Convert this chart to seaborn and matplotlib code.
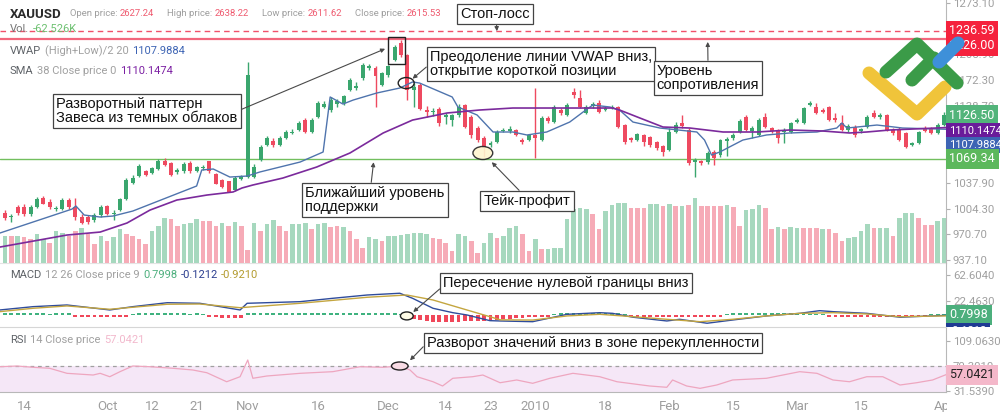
import numpy as np
import pandas as pd
import matplotlib.pyplot as plt
import seaborn as sns
from matplotlib.patches import Ellipse, Rectangle
from matplotlib.lines import Line2D
from matplotlib.transforms import Bbox, TransformedBbox

sns.set_style('white')
plt.rcParams['font.family'] = ['Roboto', 'DejaVu Sans']

# --- daily XAUUSD candles ---
opens = [999, 994, 1006, 1007, 997, 1007, 1018, 1013, 1004, 1004,
         1016, 1006, 994, 993, 989, 996, 1008, 997, 1003, 1017,
         1038, 1047, 1053, 1051, 1056, 1067, 1064, 1052, 1053, 1064,
         1053, 1057, 1066, 1050, 1042, 1040, 1029, 1043, 1046, 1046,
         1068, 1087, 1092, 1087, 1096, 1103, 1107, 1120, 1105, 1124,
         1137, 1133, 1141, 1142, 1159, 1162, 1175, 1188, 1188, 1166,
         1179, 1198, 1220, 1205, 1159, 1166, 1133, 1131, 1135, 1124,
         1120, 1127, 1140, 1124, 1110, 1097, 1087, 1091, 1106, 1106,
         1107, 1094, 1094, 1101, 1094, 1123, 1117, 1133, 1127, 1157,
         1149, 1129, 1138, 1142, 1133, 1136, 1137, 1114, 1097, 1094,
         1101, 1098, 1091, 1086, 1081, 1104, 1116, 1107, 1065, 1067,
         1065, 1078, 1074, 1093, 1097, 1104, 1124, 1106, 1101, 1124,
         1110, 1107, 1104, 1104, 1117, 1116, 1140, 1137, 1133, 1137,
         1123, 1116, 1107, 1111, 1106, 1111, 1129, 1124, 1127, 1107,
         1107, 1103, 1087, 1090, 1110, 1110, 1103, 1114]
highs = [1003, 997, 1009, 1010, 1009, 1020, 1021, 1017, 1008, 1018,
         1018, 1018, 997, 996, 999, 1009, 1009, 1003, 1018, 1044,
         1048, 1063, 1055, 1059, 1069, 1070, 1065, 1057, 1065, 1067,
         1060, 1061, 1067, 1051, 1043, 1040, 1047, 1048, 1196, 1063,
         1087, 1099, 1097, 1099, 1107, 1108, 1119, 1123, 1123, 1145,
         1145, 1150, 1148, 1153, 1175, 1170, 1195, 1193, 1191, 1183,
         1192, 1218, 1225, 1206, 1168, 1168, 1138, 1136, 1137, 1129,
         1128, 1141, 1141, 1127, 1112, 1099, 1093, 1107, 1110, 1112,
         1108, 1097, 1102, 1162, 1125, 1125, 1140, 1136, 1142, 1162,
         1159, 1140, 1144, 1146, 1138, 1140, 1138, 1115, 1098, 1103,
         1102, 1099, 1093, 1087, 1110, 1117, 1127, 1110, 1070, 1068,
         1080, 1081, 1095, 1098, 1103, 1121, 1127, 1112, 1123, 1129,
         1111, 1108, 1110, 1117, 1123, 1137, 1145, 1142, 1136, 1138,
         1129, 1127, 1115, 1114, 1110, 1127, 1133, 1129, 1128, 1110,
         1111, 1104, 1091, 1106, 1112, 1111, 1116, 1131]
lows = [989, 987, 996, 995, 995, 1005, 1010, 1004, 1001, 1003,
        1004, 989, 984, 984, 987, 993, 996, 990, 1001, 1016,
        1037, 1046, 1047, 1050, 1055, 1060, 1047, 1050, 1051, 1051,
        1052, 1055, 1051, 1037, 1031, 1026, 1027, 1042, 1044, 1044,
        1067, 1086, 1085, 1086, 1095, 1102, 1106, 1103, 1103, 1123,
        1136, 1131, 1137, 1140, 1158, 1159, 1172, 1185, 1137, 1164,
        1176, 1197, 1202, 1146, 1137, 1133, 1124, 1125, 1112, 1115,
        1112, 1124, 1110, 1097, 1091, 1072, 1085, 1090, 1104, 1103,
        1099, 1089, 1093, 1070, 1093, 1116, 1116, 1127, 1125, 1149,
        1136, 1128, 1136, 1129, 1132, 1134, 1110, 1089, 1091, 1093,
        1086, 1085, 1081, 1073, 1080, 1103, 1110, 1061, 1046, 1061,
        1063, 1061, 1072, 1073, 1094, 1103, 1106, 1097, 1099, 1110,
        1103, 1090, 1090, 1103, 1116, 1115, 1138, 1128, 1129, 1119,
        1117, 1106, 1104, 1098, 1103, 1110, 1123, 1121, 1106, 1101,
        1093, 1084, 1086, 1089, 1104, 1102, 1102, 1112]
closes = [992, 995, 999, 997, 1006, 1017, 1011, 1006, 1005, 1016,
          1006, 994, 986, 987, 996, 1007, 998, 999, 1017, 1042,
          1045, 1060, 1048, 1057, 1067, 1061, 1048, 1055, 1063, 1053,
          1059, 1059, 1053, 1037, 1032, 1026, 1045, 1046, 1179, 1059,
          1085, 1096, 1087, 1096, 1105, 1104, 1116, 1105, 1120, 1142,
          1141, 1146, 1145, 1151, 1172, 1164, 1192, 1190, 1177, 1181,
          1190, 1216, 1205, 1159, 1163, 1135, 1131, 1132, 1116, 1127,
          1127, 1137, 1111, 1101, 1094, 1084, 1090, 1104, 1107, 1108,
          1101, 1091, 1101, 1097, 1123, 1119, 1137, 1129, 1140, 1153,
          1137, 1137, 1141, 1131, 1136, 1137, 1111, 1091, 1094, 1102,
          1091, 1087, 1084, 1078, 1104, 1114, 1112, 1064, 1068, 1064,
          1077, 1070, 1094, 1095, 1101, 1119, 1107, 1110, 1120, 1111,
          1106, 1097, 1107, 1116, 1120, 1136, 1142, 1129, 1131, 1120,
          1120, 1107, 1112, 1101, 1108, 1124, 1124, 1127, 1107, 1103,
          1094, 1085, 1090, 1104, 1106, 1103, 1114, 1126.5]

volumes = [27, 27, 27, 26, 24, 29, 24, 20, 32, 30, 27, 32, 35, 29, 19, 27, 22, 26, 34, 29,
           27, 24, 19, 32, 37, 45, 44, 37, 39, 40, 44, 42, 42, 37, 40, 37, 41, 37, 13,
           40, 32, 39, 43, 37, 32, 39, 39, 40, 34, 39, 40, 36, 37, 36, 32, 24, 15, 26, 24,
           22, 27, 27, 28, 29, 30, 30, 29, 25, 24, 20, 12,
           29, 27, 22, 10, 20, 30, 25, 27, 35, 37, 29, 12, 24, 14, 14, 15, 15, 44, 54, 55,
           54, 49, 34, 52, 58, 60, 60, 55, 55, 55, 59, 59, 57, 59, 57, 57, 58, 65, 57,
           57, 57, 57, 58, 56, 37, 53, 54, 58, 55, 34, 36, 34, 36, 35, 35, 35, 35, 34, 34,
           30, 22, 25, 26, 32, 39, 35, 35, 35, 27, 45, 50, 50, 45, 38, 38, 42, 45]
vol_side = list("GRGRRGGRGGRRGRRGRGGRRRRGGGRRGGGRRRGRGR" + "R"
                + "GRGGRRGGGRGGRRGRRRGGRGGGGGGGRRRR"
                + "GGRRGGRGGGRRGRGGGGGGGRRGGGGRRRGGRGRGRGR"
                + "RRRGRRGGGRRGRGGRRRGRRRGGGGRGGRGGGRRRGG")

# indicator lines (candle index, value)
vwap_i = [-0.8, 10.5, 11.1, 12.4, 14.9, 16.9, 20.0, 30.0, 30.8, 32.6, 35.2, 37.9, 39.9,
          46.2, 49.8, 50.9, 52.9, 54.5, 58.2, 61.8, 63.8, 64.9, 70.0, 70.9, 73.9, 76.4,
          79.5, 81.7, 84.8, 88.4, 90.5, 92.0, 94.7, 96.2, 98.3, 102.5, 108.3, 109.5,
          110.6, 111.9, 115.5, 119.2, 122.8, 127.1, 130.2, 131.0, 131.8, 136.5, 140.5, 147.3]
vwap_v = [972.5, 1003.8, 1007.8, 996.0, 993.4, 994.7, 1001.2, 1033.9, 1054.8, 1056.1,
          1045.6, 1046.9, 1052.2, 1065.2, 1078.3, 1150.1, 1140.9, 1146.1, 1155.3, 1161.8,
          1169.7, 1168.3, 1150.1, 1137.0, 1126.6, 1104.4, 1104.4, 1100.5, 1104.4, 1117.4,
          1130.5, 1139.6, 1137.0, 1133.1, 1117.4, 1109.6, 1104.4, 1093.9, 1074.3, 1078.3,
          1093.9, 1100.5, 1103.1, 1104.4, 1109.6, 1116.1, 1109.6, 1113.5, 1109.6, 1107.99]
sma_i = [-0.8, 9.7, 14.9, 19.1, 22.7, 26.9, 31.6, 35.7, 37.1, 38.8, 43.5, 48.8, 54.0,
         59.2, 63.8, 69.2, 74.3, 79.5, 95.1, 96.2, 99.4, 103.0, 107.2, 112.4, 117.7,
         122.8, 128.0, 132.2, 134.9, 138.5, 147.3]
sma_v = [954.2, 969.9, 973.8, 985.6, 1002.5, 1015.6, 1022.1, 1026.1, 1031.3, 1035.2,
         1044.3, 1058.7, 1077.0, 1103.1, 1120.0, 1129.2, 1133.1, 1135.7, 1135.7, 1133.1,
         1122.6, 1110.9, 1109.6, 1104.4, 1104.4, 1107.0, 1105.7, 1103.1, 1104.4, 1107.0,
         1110.15]

macd_i = [-0.8, 4.4, 9.7, 16.4, 20.0, 25.4, 30.5, 36.8, 37.9, 46.2, 51.3, 56.7, 61.8,
          63.8, 67.0, 70.1, 72.3, 75.9, 77.5, 82.6, 88.0, 93.1, 95.1, 98.3, 103.6, 105.6,
          109.9, 113.9, 119.2, 124.4, 127.5, 129.6, 134.9, 140.1, 147.3]
macd_v = [8.2, 13.3, 15.9, 8.2, 13.3, 19.4, 18.5, 8.2, 18.5, 21.0, 26.2, 31.3, 34.0,
          26.2, 10.8, 4.0, 0.5, -8.3, -8.8, -9.9, 1.5, 4.0, 3.0, -3.0, -8.8, -6.2,
          -12.3, -7.3, -1.0, 3.0, 7.1, 5.6, 3.0, -3.0, -0.12]
sig_i = [-0.8, 4.4, 9.7, 16.4, 25.4, 30.5, 36.8, 46.2, 56.7, 62.9, 67.0, 72.3, 75.9,
         77.5, 82.6, 88.0, 93.1, 98.3, 103.6, 108.8, 113.9, 119.2, 124.4, 129.6, 134.9,
         140.1, 147.3]
sig_v = [5.6, 10.8, 14.4, 9.3, 17.0, 17.4, 11.7, 18.5, 27.8, 31.3, 23.6, 8.2, -2.2,
         -7.0, -7.4, -1.0, 1.5, -2.2, -6.2, -9.9, -6.2, -1.0, 3.0, 4.0, 2.0, -2.2, -0.92]
macd_hist = [3.0, 3.0, 2.8, 3.0, 3.2, 3.0, 2.8, 2.6, 2.8, 3.0, 2.8,
             -2.4, -2.6, -2.8, -2.6, -2.4, -2.6, -2.8, -2.4, -2.2,
             2.6, 3.0, 3.2, 3.4, 3.4, 3.2, 3.0, 3.0, 2.8, 2.6, 2.8, 2.4,
             -2.5, -3.0, -3.8, -4.6, -4.6, -4.2,
             3.4, 3.4, 3.2, 3.2, 3.0, 3.0, 3.0, 3.2, 3.2, 3.4, 3.4, 3.2, 3.0, 3.0, 3.0,
             3.2, 3.4, 3.6, 3.8, 3.6, 3.4, 3.4, 3.2, 3.0, 2.6,
             -2.5, -5.0, -8.0, -9.5, -10.0, -10.5, -10.0, -10.0, -10.0, -9.5, -9.5, -9.0,
             -9.0, -8.5, -8.0,
             -6.0, -5.0, -4.2, -3.8, -3.4, -3.0, -2.8, -2.4,
             2.6, 3.0, 3.4, 3.8, 3.8, 4.0, 4.0, 3.8, 3.8, 3.4, 3.0, 2.6,
             -2.4, -2.8, -3.0, -3.0, -3.4, -3.4, -3.4, -3.4, -3.0, -3.0, -3.4, -3.4, -3.0,
             -2.8, -2.4,
             2.6, 3.0, 3.4, 3.4, 3.4, 3.4, 3.4, 3.4, 3.4, 3.2, 3.0, 3.0, 2.8, 2.6, 2.6, 2.4,
             -2.2, -2.4, -2.6, -2.6, -2.6, -2.4, -2.4, -2.2, -2.0,
             -2.0, -2.2, -2.4, -2.6, -2.4, -2.2, -2.0, 2.2, 2.4, 2.6]

rsi_i = [-0.8, 1.9, 4.4, 7.0, 9.7, 13.8, 14.9, 16.4, 18.0, 20.0, 22.7, 26.3, 29.4, 31.6,
         34.7, 36.8, 38.0, 38.8, 41.0, 46.2, 51.3, 55.6, 59.2, 61.8, 63.4, 64.5, 67.0,
         68.5, 70.1, 73.2, 74.8, 77.5, 80.1, 82.6, 85.3, 88.9, 93.1, 95.8, 100.9, 103.6,
         104.5, 106.7, 108.8, 111.4, 113.9, 119.2, 124.4, 127.1, 129.6, 132.2, 134.9,
         137.4, 140.1, 142.7, 145.2, 147.3]
rsi_v = [69.2, 70.3, 68.3, 66.8, 59.1, 56.5, 59.1, 53.9, 61.6, 70.3, 69.2, 66.8, 64.2,
         60.0, 46.2, 53.9, 79.5, 51.5, 55.0, 59.1, 61.6, 69.2, 68.3, 70.3, 64.2, 53.9,
         46.2, 39.7, 51.5, 53.9, 56.5, 44.7, 48.9, 43.8, 51.5, 59.1, 53.9, 46.2, 39.7,
         37.7, 48.9, 39.7, 36.1, 41.2, 48.9, 51.5, 61.6, 59.1, 48.9, 46.2, 53.9, 53.9,
         41.2, 44.7, 48.9, 57.04]

tick_pos = [3, 16, 23, 30, 38, 49, 60, 69, 76, 83, 94, 104, 114, 124, 134, 147]
tick_labels = ['14', 'Oct', '12', '21', 'Nov', '16', 'Dec', '14', '23', '2010', '18',
               'Feb', '15', 'Mar', '15', 'Apr']
# scale labels left visible (the others sit under the value tags)
price_ticks = [937.1, 970.7, 1004.3, 1037.9, 1138.7, 1172.3, 1205.9, 1273.1]
macd_ticks = [22.463, 62.604]
rsi_ticks = [31.539, 70.301, 109.063]

stop_loss = 1236.59
resistance = 1226.00
support = 1069.34
vwap_last, sma_last, macd_last, signal_last, hist_last = 1107.9884, 1110.1474, -0.1212, -0.9210, 0.7998
rsi_last = 57.0421
quote = [('Open price:', '2627.24'), ('High price:', '2638.22'),
         ('Low price:', '2611.62'), ('Close price:', '2615.53')]

UP, DN = '#3aa66e', '#ee4a60'
VOL_UP, VOL_DN = '#a6d8be', '#f6abb7'

df = pd.DataFrame({'open': opens, 'high': highs, 'low': lows, 'close': closes})
idx = np.arange(len(df))
up = df['close'] >= df['open']
cols = np.where(up, UP, DN)

W, H, RIGHT = 1000, 412, 946
fig = plt.figure(figsize=(W / 100, H / 100), dpi=100, facecolor='white')


def panel(top, bottom, **kw):
    return fig.add_axes([0, 1 - bottom / H, RIGHT / W, (bottom - top) / H], **kw)


ax = panel(0, 263)
axm = panel(263, 327, sharex=ax)
axr = panel(327, 392, sharex=ax)
axv = ax.twinx()
ax.set_zorder(axv.get_zorder() + 1)
ax.patch.set_visible(False)

# volume
sns.barplot(x=idx, y=volumes, hue=vol_side, palette={'G': VOL_UP, 'R': VOL_DN},
            dodge=False, native_scale=True, width=0.72, errorbar=None, saturation=1,
            legend=False, linewidth=0, ax=axv)
axv.set_ylim(0, 263)
axv.set_yticks([])
axv.set_ylabel('')
for s in axv.spines.values():
    s.set_visible(False)

# candles
ax.vlines(idx, df['low'], df['high'], colors=cols, lw=1, zorder=2)
body = np.maximum((df['close'] - df['open']).abs(), 0.9)
ax.bar(idx, body, bottom=np.minimum(df['open'], df['close']), width=0.62,
       color=cols, lw=0, zorder=3)

ax.axhline(stop_loss, color='#f0506a', lw=1, ls=(0, (4, 3)), zorder=1)
ax.axhline(resistance, color='#f2667c', lw=1.6, zorder=1)
ax.axhline(support, color='#72bf5e', lw=1, zorder=1)

sns.lineplot(x=vwap_i, y=vwap_v, ax=ax, color='#4f74ad', lw=1, zorder=4)
sns.lineplot(x=sma_i, y=sma_v, ax=ax, color='#7b2a9c', lw=1.2, zorder=4)

# MACD
hist_side = ['G' if v >= 0 else 'R' for v in macd_hist]
sns.barplot(x=idx, y=macd_hist, hue=hist_side, palette={'G': '#3fb27f', 'R': '#f0475a'},
            dodge=False, native_scale=True, width=0.6, errorbar=None, saturation=1,
            legend=False, linewidth=0, ax=axm)
sns.lineplot(x=macd_i, y=macd_v, ax=axm, color='#2f4c9c', lw=1)
sns.lineplot(x=sig_i, y=sig_v, ax=axm, color='#c4a640', lw=1)

# RSI
axr.axhspan(30, 70, color='#f5e7f7', lw=0, zorder=0)
axr.axhline(70, color='#a0a0a0', lw=0.9, ls=(0, (3, 3)), zorder=1)
sns.lineplot(x=rsi_i, y=rsi_v, ax=axr, color='#eea6bf', lw=0.9)

# axes styling
ax.set_ylim(933.4, 1276.7)
axm.set_ylim(-18.1, 80.7)
axr.set_ylim(30.5, 130)
ax.set_yticks(price_ticks, [f'{t:.2f}' for t in price_ticks])
axm.set_yticks(macd_ticks, [f'{t:.4f}' for t in macd_ticks])
axr.set_yticks(rsi_ticks, [f'{t:.4f}' for t in rsi_ticks])
axr.set_xticks(tick_pos, tick_labels)
for a in (ax, axm, axr):
    a.set_xlim(-0.78, 147.3)
    a.set_xlabel('')
    a.set_ylabel('')
    a.yaxis.tick_right()
    a.tick_params(axis='y', length=3, width=0.8, color='#b0b0b0', labelcolor='#a0a0a0',
                  labelsize=8.2, pad=2, left=False, labelleft=False, right=True, labelright=True)
    a.spines['left'].set_visible(False)
    a.spines['right'].set_color('#b8b8b8')
    a.spines['bottom'].set_visible(False)
    a.spines['top'].set_visible(False)
for a in (ax, axm):
    a.tick_params(axis='x', bottom=False, labelbottom=False)
axm.spines['top'].set_visible(True)
axm.spines['top'].set_color('#e4e4e4')
axr.spines['top'].set_visible(True)
axr.spines['top'].set_color('#d6d6d6')
axr.spines['bottom'].set_visible(True)
axr.spines['bottom'].set_color('#b8b8b8')
axr.tick_params(axis='x', length=3, width=0.8, color='#b0b0b0', labelcolor='#9e9e9e',
                labelsize=9.5, pad=3)
clip_x = TransformedBbox(Bbox([[0, 0], [947 / W, 1]]), fig.transFigure)
for lbl in axr.get_xticklabels():
    lbl.set_clip_box(clip_x)
    lbl.set_clip_on(True)


# value tags on the right scale
def tag(a, val, text, fc, tc='white', dy_px=0, size=8, clip=None):
    t = a.annotate(text, xy=(1, val), xycoords=('axes fraction', 'data'),
                   xytext=(2.5, -dy_px * 0.72), textcoords='offset points',
                   ha='left', va='center', fontsize=size, color=tc,
                   bbox=dict(boxstyle='square,pad=0.28', fc=fc, ec='none'),
                   annotation_clip=False, zorder=8)
    if clip is not None:
        t.set_clip_box(clip)
        t.set_clip_on(True)


tag(ax, stop_loss, f'{stop_loss:.2f}', '#f5223d', size=9)
tag(ax, resistance, f'{resistance:.2f}', '#f5223d', dy_px=7, size=9)
tag(ax, closes[-1], f'{closes[-1]:.2f}', '#52b47a', size=9)
tag(ax, sma_last, f'{sma_last:.4f}', '#6a1b9a', dy_px=3.5)
tag(ax, vwap_last, f'{vwap_last:.4f}', '#3d64b4', dy_px=15.5)
tag(ax, support, f'{support:.2f}', '#5cb85c', size=9)
tag(axm, hist_last, f'{hist_last:.4f}', '#4caf7d', size=9)
tag(axm, macd_last, f'{macd_last:.4f}', '#1f3a93', dy_px=15.5,
    clip=TransformedBbox(Bbox([[RIGHT / W, 1 - 327 / H], [1, 1 - 263 / H]]), fig.transFigure))
tag(axr, rsi_last, f'{rsi_last:.4f}', '#f4b8ca', tc='#222222', size=9)

# legend rows
r = fig.canvas.get_renderer()


def legend_row(y, parts, size=8, x=10, gap=3.5):
    for text, color, g in parts:
        t = fig.text(x / W, 1 - y / H, text, color=color, fontsize=size, va='center', ha='left')
        x = t.get_window_extent(r).x1 + (gap if g is None else g)


fig.text(10 / W, 1 - 14 / H, 'XAUUSD', fontsize=9.5, fontweight='bold', color='#2b2b2b',
         va='center')
row1 = []
for label, value in quote:
    row1 += [(label, '#9e9e9e', 2.5), (value, '#ef5a6f', 13)]
legend_row(14, row1, size=6.8, x=70)
legend_row(29, [('Vol.', '#757575', None), ('-62.526K', '#6cc070', None)])
legend_row(51, [('VWAP', '#5f6368', None), ('(High+Low)/2 20', '#a0a0a0', None),
                (f'{vwap_last:.4f}', '#3d64b4', None)])
legend_row(71, [('SMA', '#5f6368', None), ('38 Close price 0', '#a0a0a0', None),
                (f'{sma_last:.4f}', '#7b1fa2', None)])
legend_row(275, [('MACD', '#5f6368', None), ('12 26 Close price 9', '#a0a0a0', None),
                 (f'{hist_last:.4f}', '#4caf7d', None), (f'{macd_last:.4f}', '#2c3e8f', None),
                 (f'{signal_last:.4f}', '#b39b2e', None)])
legend_row(340, [('RSI', '#5f6368', None), ('14 Close price', '#a0a0a0', None),
                 (f'{rsi_last:.4f}', '#f2b8cc', None)])

# annotations
NOTE = dict(fontsize=10.5, family=['Liberation Sans', 'DejaVu Sans'], color='#111111',
            ha='center', va='center', multialignment='left', linespacing=1.0,
            textcoords='figure pixels', annotation_clip=False, zorder=9,
            bbox=dict(boxstyle='square,pad=0.22', fc='white', ec='#444444', lw=0.9))


def note(a, text, xy, center, relpos):
    a.annotate(text, xy=xy, xytext=(center[0], H - center[1]),
               arrowprops=dict(arrowstyle='-|>', color='#4a4a4a', lw=0.8, mutation_scale=6,
                               shrinkA=0, shrinkB=0, relpos=relpos), **NOTE)


note(ax, 'Стоп-лосс', (77.0, 1236.0), (495, 14), (0.52, 0))
note(ax, 'Преодоление линии VWAP вниз,\nоткрытие короткой позиции', (63.8, 1174),
     (541, 64), (0, 0.5))
note(ax, 'Уровень\nсопротивления', (110.0, 1222), (708, 78), (0.5, 1))
note(ax, 'Разворотный паттерн\nЗавеса из темных облаков', (59.5, 1213), (147, 111), (1, 0.5))
note(ax, 'Ближайший уровень\nподдержки', (57.7, 1065), (375, 200), (0.47, 1))
note(ax, 'Тейк-профит', (76.2, 1065), (527, 201), (0.45, 1))
note(axm, 'Пересечение нулевой границы вниз', (63.9, 5), (566, 283), (0, 0.3))
note(axr, 'Разворот значений вниз в зоне перекупленности', (63.4, 79), (593, 343), (0, 0.5))

ax.add_patch(Rectangle((60.0, 1193), 2.6, 35.3, fill=False, ec='#222222', lw=1, zorder=5))
ax.add_patch(Ellipse((62.8, 1168.3), 2.5, 14.4, fc='none', ec='#222222', lw=1, zorder=5))
ax.add_patch(Ellipse((74.8, 1077), 3.1, 17, fc='#fff6d0', alpha=0.9, ec='#222222', lw=1, zorder=5))
axm.add_patch(Ellipse((62.9, -1), 2.0, 12.3, fc='#fffbe6', ec='#222222', lw=1, zorder=5))
axr.add_patch(Ellipse((61.8, 70.3), 2.6, 12.3, fc='#f8dbe4', ec='#222222', lw=1, zorder=5))

# watermark logo
for pts, color in [([(869, 73), (917, 114), (945, 87)], '#f0c43a'),
                   ([(886, 72), (917, 44), (957, 83)], '#3b9b48'),
                   ([(912, 80), (934, 58)], '#3b9b48'),
                   ([(939, 62), (958, 43)], '#3e90d9')]:
    xs = [p[0] / W for p in pts]
    ys = [1 - p[1] / H for p in pts]
    fig.add_artist(Line2D(xs, ys, transform=fig.transFigure, color=color, lw=9.4,
                          solid_capstyle='round', solid_joinstyle='round', zorder=20))

fig.savefig('out.png', dpi=100)
